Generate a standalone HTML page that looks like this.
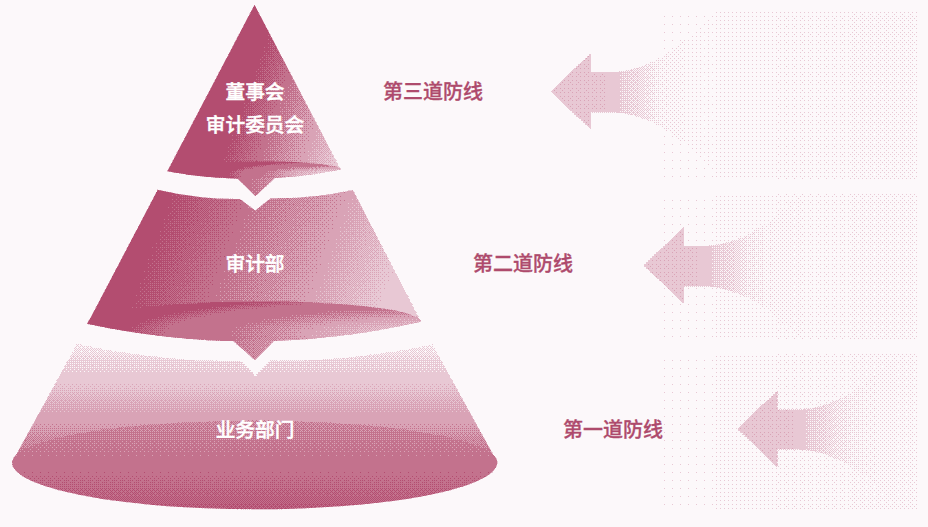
<!DOCTYPE html>
<html lang="zh-CN">
<head>
<meta charset="utf-8">
<title>三道防线</title>
<style>
html,body{margin:0;padding:0;background:#fcf8fa;}
body{width:928px;height:527px;overflow:hidden;position:relative;font-family:"Liberation Sans","Noto Sans CJK SC",sans-serif;}
svg{position:absolute;left:0;top:0;display:block;}
.lbl{position:absolute;font-weight:500;font-size:19.7px;line-height:28px;height:28px;white-space:nowrap;letter-spacing:0;}
.w{color:#fff;-webkit-text-stroke:0.45px #fff;text-align:center;width:200px;left:155px;}
.p{color:#ae4a6c;-webkit-text-stroke:0.3px #ae4a6c;font-size:20px;}
</style>
</head>
<body>
<svg width="928" height="527" viewBox="0 0 928 527">
<defs>
<linearGradient id="g1" gradientUnits="userSpaceOnUse" x1="0" y1="0" x2="940" y2="342"><stop offset="0.2635" stop-color="rgb(25,25,25)"/><stop offset="0.2975" stop-color="rgb(76,76,76)"/><stop offset="0.34" stop-color="rgb(127,127,127)"/><stop offset="0.374" stop-color="rgb(178,178,178)"/></linearGradient>
<linearGradient id="g2" gradientUnits="userSpaceOnUse" x1="0" y1="0" x2="940" y2="342"><stop offset="0.226" stop-color="rgb(25,25,25)"/><stop offset="0.301" stop-color="rgb(76,76,76)"/><stop offset="0.395" stop-color="rgb(127,127,127)"/><stop offset="0.464" stop-color="rgb(178,178,178)"/></linearGradient>
<linearGradient id="g3" gradientUnits="userSpaceOnUse" x1="0" y1="344" x2="0" y2="510"><stop offset="0" stop-color="rgb(213,213,213)"/><stop offset="0.187" stop-color="rgb(178,178,178)"/><stop offset="0.235" stop-color="rgb(178,178,178)"/><stop offset="0.42" stop-color="rgb(127,127,127)"/><stop offset="0.46" stop-color="rgb(127,127,127)"/><stop offset="0.69" stop-color="rgb(76,76,76)"/><stop offset="0.73" stop-color="rgb(76,76,76)"/><stop offset="1" stop-color="rgb(25,25,25)"/></linearGradient>
<radialGradient id="e1" gradientUnits="userSpaceOnUse" cx="0" cy="0" r="107.6" gradientTransform="translate(335 174) scale(1 0.1188)"><stop offset="0.15" stop-color="rgb(178,178,178)"/><stop offset="0.45" stop-color="rgb(127,127,127)"/><stop offset="0.68" stop-color="rgb(76,76,76)"/><stop offset="0.87" stop-color="rgb(76,76,76)"/><stop offset="1" stop-color="rgb(25,25,25)"/></radialGradient>
<linearGradient id="p1" gradientUnits="userSpaceOnUse" x1="238" y1="0" x2="275" y2="0"><stop offset="0.3" stop-color="rgb(76,76,76)"/><stop offset="1" stop-color="rgb(107,107,107)"/></linearGradient>
<radialGradient id="e2" gradientUnits="userSpaceOnUse" cx="0" cy="0" r="318.6" gradientTransform="translate(442.4 333.8) scale(1 0.1232)"><stop offset="0.06" stop-color="rgb(178,178,178)"/><stop offset="0.42" stop-color="rgb(127,127,127)"/><stop offset="0.68" stop-color="rgb(76,76,76)"/><stop offset="0.86" stop-color="rgb(76,76,76)"/><stop offset="1" stop-color="rgb(25,25,25)"/></radialGradient>
<linearGradient id="p2" gradientUnits="userSpaceOnUse" x1="233" y1="0" x2="275" y2="0"><stop offset="0.1" stop-color="rgb(89,89,89)"/><stop offset="1" stop-color="rgb(111,111,111)"/></linearGradient>
<linearGradient id="e3" gradientUnits="userSpaceOnUse" x1="0" y1="420.5" x2="0" y2="509.2"><stop offset="0" stop-color="rgb(97,97,97)"/><stop offset="0.44" stop-color="rgb(76,76,76)"/><stop offset="0.56" stop-color="rgb(76,76,76)"/><stop offset="1" stop-color="rgb(42,42,42)"/></linearGradient>
<linearGradient id="bx" gradientUnits="userSpaceOnUse" x1="716" y1="0" x2="917" y2="0"><stop offset="0" stop-color="rgb(178,178,178)" stop-opacity="0.07"/><stop offset="1" stop-color="rgb(178,178,178)" stop-opacity="0.122"/></linearGradient>
<linearGradient id="af" gradientUnits="userSpaceOnUse" x1="551" y1="0" x2="716" y2="0"><stop offset="0" stop-color="rgb(173,173,173)" stop-opacity="1"/><stop offset="0.327" stop-color="rgb(173,173,173)" stop-opacity="1"/><stop offset="0.352" stop-color="rgb(178,178,178)" stop-opacity="1"/><stop offset="0.406" stop-color="rgb(178,178,178)" stop-opacity="1"/><stop offset="0.427" stop-color="rgb(178,178,178)" stop-opacity="0.75"/><stop offset="0.539" stop-color="rgb(178,178,178)" stop-opacity="0.55"/><stop offset="0.63" stop-color="rgb(178,178,178)" stop-opacity="0.25"/><stop offset="0.733" stop-color="rgb(178,178,178)" stop-opacity="0.1"/><stop offset="0.855" stop-color="rgb(178,178,178)" stop-opacity="0.035"/><stop offset="1" stop-color="rgb(178,178,178)" stop-opacity="0.0"/></linearGradient>
<g id="arrow"><path d="M550.8 91.5 L590.9 53 L590.9 72.2 L608 72.2 C636 72.2 664 60 692 34 L716 11 L716 173.4 L692 150.4 C664 124.4 636 112.2 608 112.2 L590.9 112.2 L590.9 129.8 Z" fill="url(#af)"/></g>

<filter id="dith" filterUnits="userSpaceOnUse" x="0" y="0" width="928" height="527" color-interpolation-filters="sRGB">
<feFlood x="1" y="0" width="1" height="1" flood-color="rgb(128,128,128)" result="a1"/>
<feFlood x="0" y="1" width="1" height="1" flood-color="rgb(191,191,191)" result="a2"/>
<feFlood x="1" y="1" width="1" height="1" flood-color="rgb(64,64,64)" result="a3"/>
<feFlood x="0" y="0" width="2" height="2" flood-color="#000" result="a0"/>
<feMerge x="0" y="0" width="2" height="2" result="am"><feMergeNode in="a0"/><feMergeNode in="a1"/><feMergeNode in="a2"/><feMergeNode in="a3"/></feMerge>
<feTile in="am" result="A"/>
<feFlood x="2" y="0" width="2" height="2" flood-color="rgb(128,128,128)" result="b1"/>
<feFlood x="0" y="2" width="2" height="2" flood-color="rgb(191,191,191)" result="b2"/>
<feFlood x="2" y="2" width="2" height="2" flood-color="rgb(64,64,64)" result="b3"/>
<feFlood x="0" y="0" width="4" height="4" flood-color="#000" result="b0"/>
<feMerge x="0" y="0" width="4" height="4" result="bm"><feMergeNode in="b0"/><feMergeNode in="b1"/><feMergeNode in="b2"/><feMergeNode in="b3"/></feMerge>
<feTile in="bm" result="B"/>
<feFlood x="4" y="0" width="4" height="4" flood-color="rgb(128,128,128)" result="c1"/>
<feFlood x="0" y="4" width="4" height="4" flood-color="rgb(191,191,191)" result="c2"/>
<feFlood x="4" y="4" width="4" height="4" flood-color="rgb(64,64,64)" result="c3"/>
<feFlood x="0" y="0" width="8" height="8" flood-color="#000" result="c0"/>
<feMerge x="0" y="0" width="8" height="8" result="cm"><feMergeNode in="c0"/><feMergeNode in="c1"/><feMergeNode in="c2"/><feMergeNode in="c3"/></feMerge>
<feTile in="cm" result="Cc"/>
<feComposite in="A" in2="B" operator="arithmetic" k1="0" k2="1" k3="0.25" k4="0" result="AB"/>
<feComposite in="AB" in2="Cc" operator="arithmetic" k1="0" k2="1" k3="0.0625" k4="0" result="T"/>
<feComposite in="SourceGraphic" in2="T" operator="arithmetic" k1="0" k2="1" k3="0.194" k4="-0.09504" result="S"/>
<feComponentTransfer in="S">
<feFuncR type="discrete" tableValues="0.70246 0.76521 0.85148 0.91030 0.98874"/>
<feFuncG type="discrete" tableValues="0.30246 0.44756 0.63972 0.78481 0.97305"/>
<feFuncB type="discrete" tableValues="0.43972 0.55344 0.71423 0.83187 0.98089"/>
</feComponentTransfer>
</filter>
</defs>
<g filter="url(#dith)">
<rect width="928" height="527" fill="rgb(229,229,229)"/>
<g id="boxes">
<rect x="663.5" y="14" width="52.5" height="163" fill="rgb(178,178,178)" fill-opacity="0.03"/>
<rect x="716" y="10.5" width="201.5" height="168.5" fill="url(#bx)"/>
<rect x="663.5" y="198" width="52.5" height="139" fill="rgb(178,178,178)" fill-opacity="0.03"/>
<rect x="716" y="193.7" width="201.5" height="145.3" fill="url(#bx)"/>
<rect x="663.5" y="358" width="52.5" height="149" fill="rgb(178,178,178)" fill-opacity="0.03"/>
<rect x="716" y="353.8" width="201.5" height="155.5" fill="url(#bx)"/>
</g>
<use href="#arrow"/>
<use href="#arrow" transform="translate(92.8 174)"/>
<use href="#arrow" transform="translate(186.6 337.4)"/>
<path d="M77 344 Q159 361.5 241 361.2 L255.3 376 L270.6 360.6 Q351 361.5 432.5 344.4 L497.5 462.6 L12 462.2 Z" fill="url(#g3)"/>
<path d="M12 462.3 A242.7 41.8 0 0 1 497.4 462.6 A242.7 46.8 0 0 1 12 462.3 Z" fill="url(#e3)"/>
<path d="M157.7 189.8 Q199 199.5 240 199 L255.3 210.5 L270.5 198.2 Q312 199 352.9 190.1 L421 321.7 Q254 359.7 87.4 323.7 Z" fill="url(#g2)"/>
<path d="M87.4 323.7 A166.8 21.3 -0.35 0 1 421 321.7 Q254 359.7 87.4 323.7 Z" fill="url(#e2)"/>
<path d="M232 340 L255 360.2 L275 340 Z" fill="url(#p2)"/>
<path d="M254.5 4.8 L340.8 169.5 Q254 187.2 167.3 171.2 Z" fill="url(#g1)"/>
<path d="M167.3 171.2 A86.8 9.3 -0.56 0 1 340.8 169.5 Q254 187.2 167.3 171.2 Z" fill="url(#e1)"/>
<path d="M236.5 177.8 L255.5 196.2 L275.3 177.6 Z" fill="url(#p1)"/>
</g>
</svg>
<div class="lbl w" style="top:78px;">董事会</div>
<div class="lbl w" style="top:111px;">审计委员会</div>
<div class="lbl w" style="top:250px;">审计部</div>
<div class="lbl w" style="top:416px;">业务部门</div>
<div class="lbl p" style="left:383px;top:78px;">第三道防线</div>
<div class="lbl p" style="left:473px;top:250px;">第二道防线</div>
<div class="lbl p" style="left:563px;top:416px;">第一道防线</div>
</body>
</html>
